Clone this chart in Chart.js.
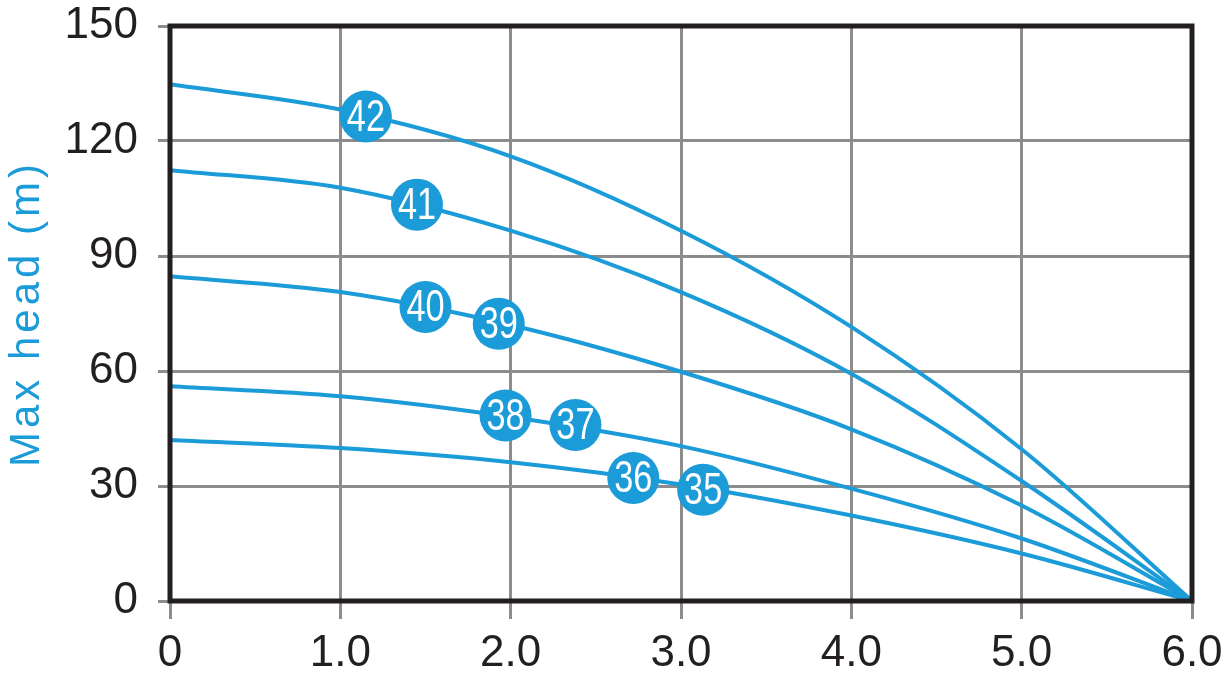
<!DOCTYPE html>
<html>
<head>
<meta charset="utf-8">
<script src="https://cdn.jsdelivr.net/npm/chart.js@4.4.1/dist/chart.umd.min.js"></script>
<style>
  html, body { margin: 0; padding: 0; background: #fff; }
  #wrap { width: 1227px; height: 677px; }
</style>
</head>
<body>
<div id="wrap"><canvas id="chart" width="1227" height="677"></canvas></div>
<script>
// flow (x) points shared by all curves
const flowX = [0, 1, 2, 3, 4, 5, 6];
const xTickLabels = ['0', '1.0', '2.0', '3.0', '4.0', '5.0', '6.0'];
const yTickLabels = ['0', '30', '60', '90', '120', '150'];
const yTitle = 'Max head (m)';

// head values, top curve first
const head42 = [134.8, 128.2, 116.0, 96.6, 71.5, 39.6, 0];
const head41 = [112.4, 107.8, 96.6, 80.6, 59.3, 31.3, 0];
const head39 = [84.7, 80.6, 72.0, 59.8, 44.8, 24.9, 0];
const head37 = [56.0, 53.4, 48.0, 40.4, 29.3, 16.3, 0];
const head35 = [42.0, 39.9, 36.2, 30.4, 22.3, 12.4, 0];

// model badges on the curves
const badgeText = ['42', '41', '40', '39', '38', '37', '36', '35'];
const badgeX = [1.15, 1.45, 1.5, 1.93, 1.97, 2.38, 2.72, 3.13];
const badgeY = [126.4, 103.4, 76.7, 72.3, 48.4, 45.9, 32.1, 29.0];

const BLUE = '#1b9bd7';
const INK = '#231f20';
const GRID = '#8c8c8c';
const FONT = '"Liberation Sans", Arial, sans-serif';

const curves = [head42, head41, head39, head37, head35].map(h => ({
    type: 'line',
    data: flowX.map((x, i) => ({ x: x, y: h[i] })),
    borderColor: BLUE,
    borderWidth: 4,
    pointRadius: 0,
    fill: false,
    cubicInterpolationMode: 'monotone',
    order: 2
}));

const badges = {
    type: 'scatter',
    data: badgeX.map((x, i) => ({ x: x, y: badgeY[i] })),
    backgroundColor: BLUE,
    borderWidth: 0,
    pointRadius: 26,
    pointHoverRadius: 26,
    order: 1
};

// thick black frame round the plot
const framePlugin = {
    id: 'frame',
    afterDatasetsDraw(chart) {
        const a = chart.chartArea;
        const ctx = chart.ctx;
        ctx.save();
        ctx.strokeStyle = INK;
        ctx.lineWidth = 5;
        ctx.strokeRect(a.left, a.top, a.right - a.left, a.bottom - a.top);
        ctx.restore();
    }
};

// white numbers in the badges (condensed look)
const badgeTextPlugin = {
    id: 'badgeText',
    afterDraw(chart) {
        const meta = chart.getDatasetMeta(chart.data.datasets.length - 1);
        const ctx = chart.ctx;
        ctx.save();
        ctx.fillStyle = '#ffffff';
        ctx.font = '44px ' + FONT;
        ctx.textAlign = 'center';
        ctx.textBaseline = 'middle';
        meta.data.forEach((pt, i) => {
            ctx.save();
            ctx.translate(pt.x, pt.y + 2);
            ctx.scale(0.78, 1);
            ctx.fillText(badgeText[i], 0, 0);
            ctx.restore();
        });
        ctx.restore();
    }
};

// rotated y title with a bit of letter spacing
const yTitlePlugin = {
    id: 'yTitle',
    afterDraw(chart) {
        const a = chart.chartArea;
        const ctx = chart.ctx;
        ctx.save();
        ctx.fillStyle = BLUE;
        ctx.font = '42px ' + FONT;
        ctx.letterSpacing = '4px';
        ctx.textAlign = 'center';
        ctx.textBaseline = 'middle';
        ctx.translate(27, (a.top + a.bottom) / 2);
        ctx.rotate(-Math.PI / 2);
        ctx.fillText(yTitle, 0, 0);
        ctx.restore();
    }
};

new Chart(document.getElementById('chart'), {
    data: { datasets: [...curves, badges] },
    plugins: [badgeTextPlugin, framePlugin, yTitlePlugin],
    options: {
        responsive: false,
        animation: false,
        events: [],
        layout: { padding: { top: 22, right: 35, left: 0, bottom: 0 } },
        plugins: { legend: { display: false }, tooltip: { enabled: false } },
        scales: {
            x: {
                type: 'linear',
                min: 0, max: 6,
                afterBuildTicks(scale) { scale.ticks = flowX.map(v => ({ value: v })); },
                afterFit(scale) {
                    scale.height = 76;
                    scale.paddingLeft = 0;
                    scale.paddingRight = 0;
                },
                grid: { color: GRID, lineWidth: 3, tickLength: 18, tickColor: GRID },
                border: { display: false },
                ticks: {
                    color: INK,
                    padding: 8,
                    font: { family: FONT, size: 44 },
                    callback: (v, i) => xTickLabels[i]
                }
            },
            y: {
                type: 'linear',
                min: 0, max: 150,
                afterBuildTicks(scale) { scale.ticks = yTickLabels.map(v => ({ value: Number(v) })); },
                afterFit(scale) {
                    scale.width = 170;
                    scale.paddingTop = 0;
                    scale.paddingBottom = 0;
                },
                grid: { color: GRID, lineWidth: 3, tickLength: 12, tickColor: GRID },
                border: { display: false },
                ticks: {
                    color: INK,
                    padding: 20,
                    font: { family: FONT, size: 44 },
                    callback: (v, i) => yTickLabels[i]
                }
            }
        }
    }
});
</script>
</body>
</html>
